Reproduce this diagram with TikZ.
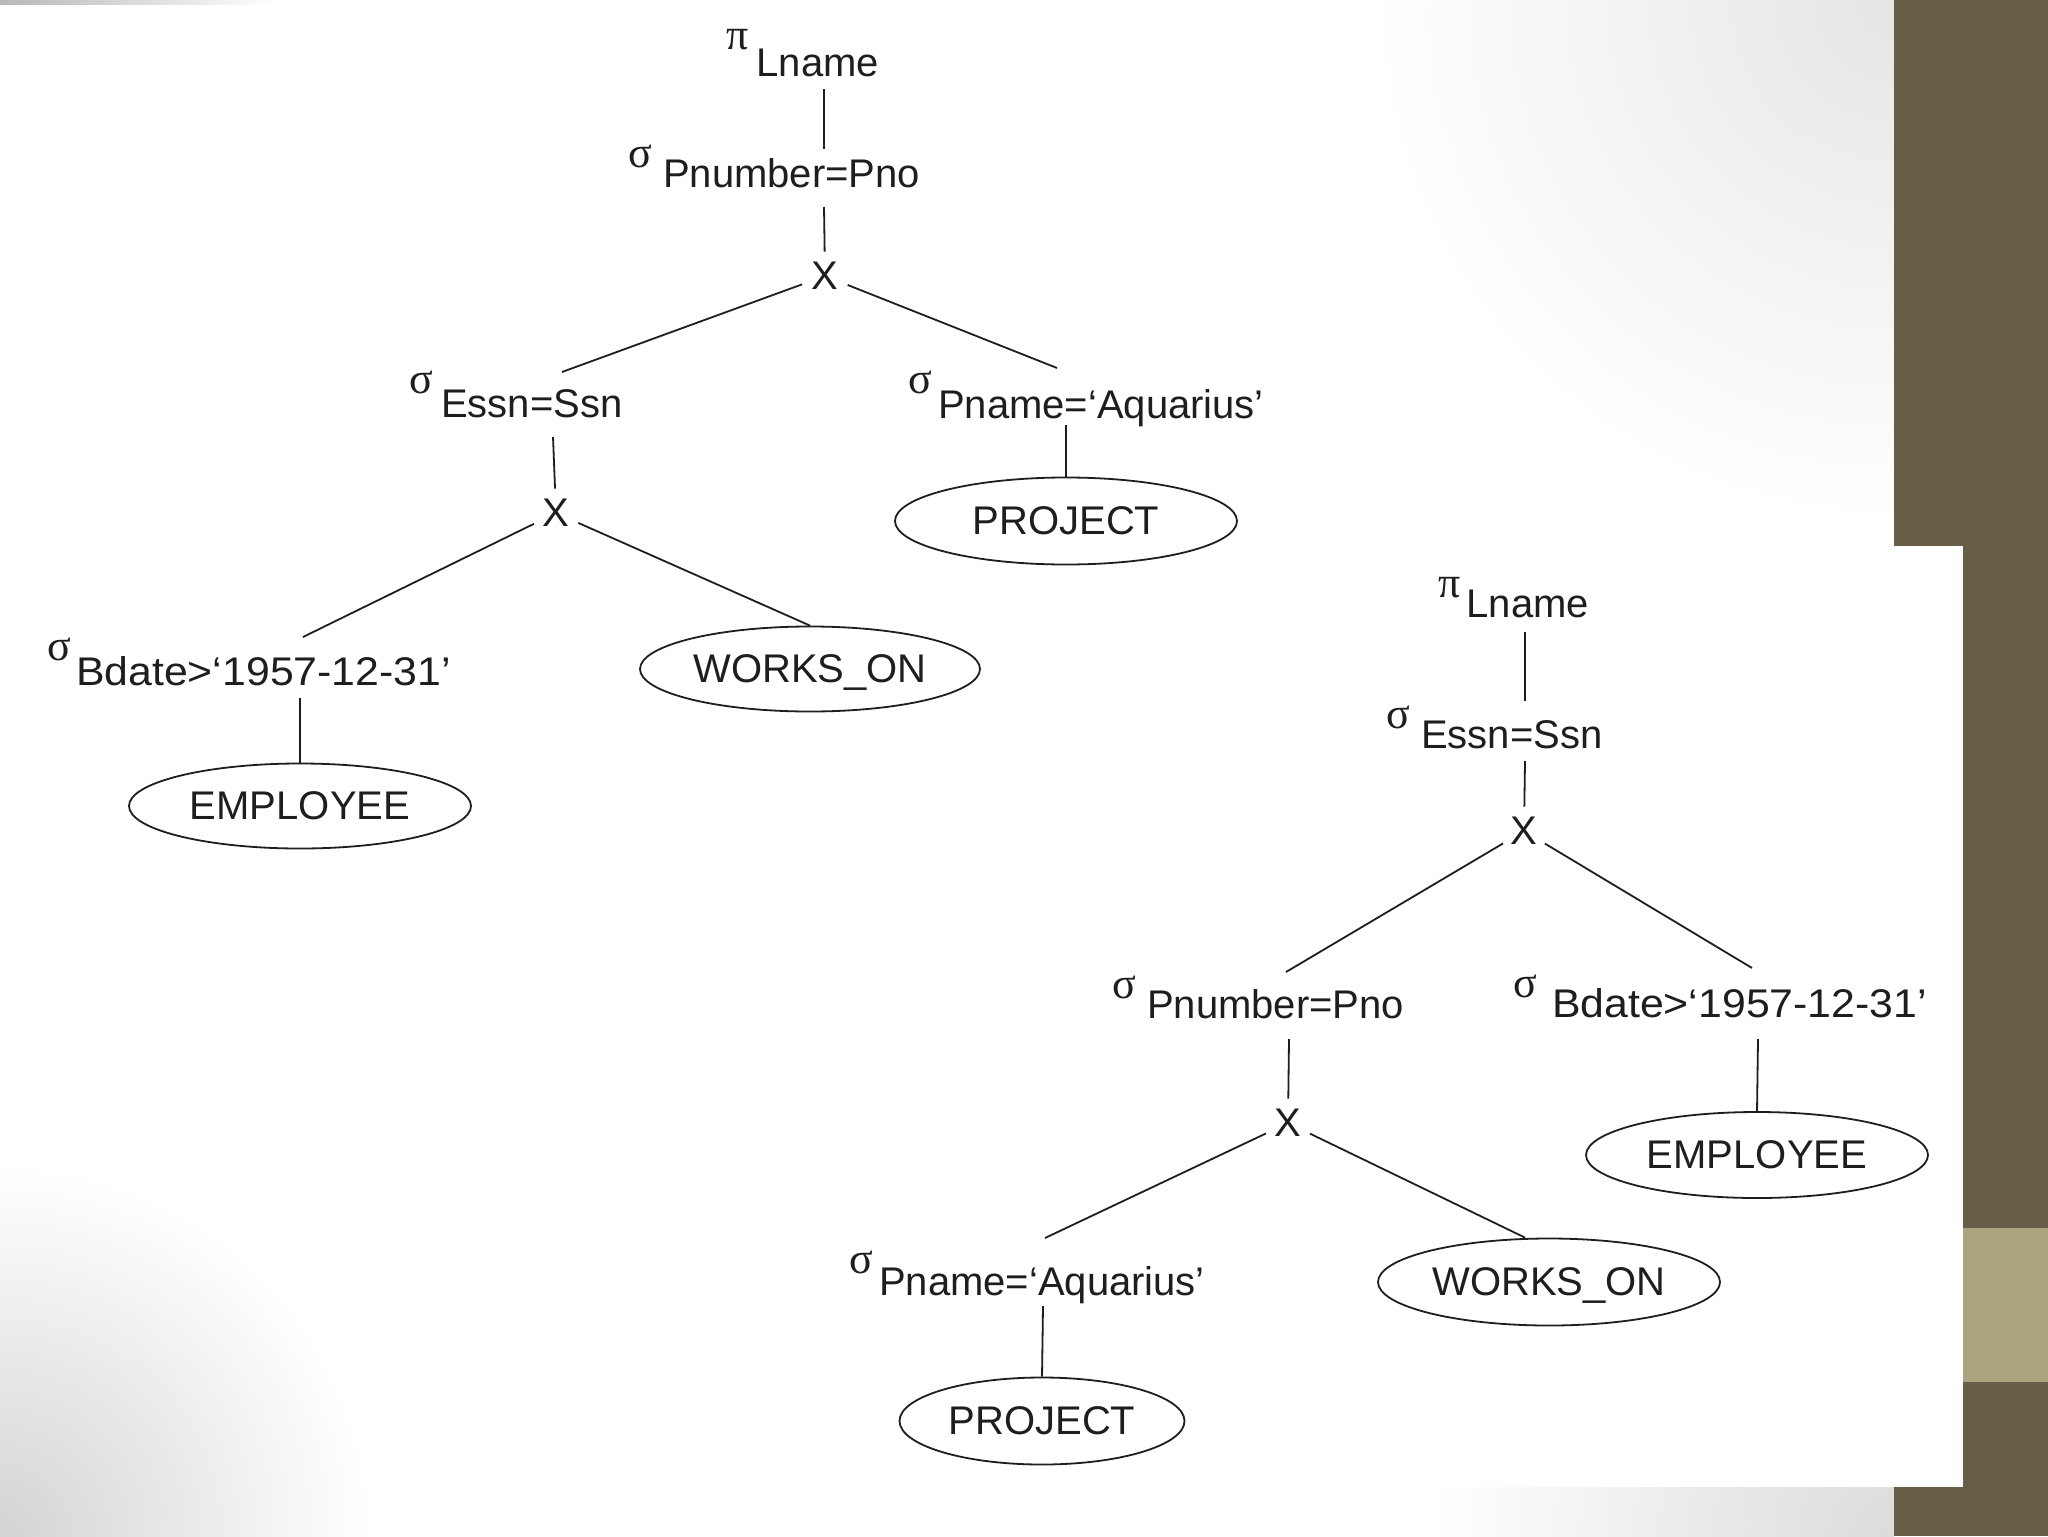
\documentclass[tikz,border=0pt]{standalone}
\usepackage{fontspec}
\usepackage{graphicx}
\setmainfont{Liberation Sans}
\newfontfamily\grkfont{Liberation Serif}
\usetikzlibrary{shapes.geometric,calc}
\definecolor{olivedark}{HTML}{685E48}
\definecolor{olivelight}{HTML}{A9A47C}
\definecolor{ink}{HTML}{1E1E1E}
\newcommand{\oplbl}[4]{\raisebox{#1}{\grkfont\fontsize{22}{26}\selectfont #3}\hspace{#2}#4}
\begin{document}
\begin{tikzpicture}[x=0.5pt,y=-0.5pt,
  txt/.style={font=\fontsize{20}{24}\selectfont, text=ink, inner sep=0pt},
  oplabel/.style={txt, anchor=base west},
  xnode/.style={txt, circle, minimum size=24pt},
  relnode/.style={txt, ellipse, draw=ink, line width=0.9pt, text depth=0pt},
  conn/.style={draw=ink, line width=0.9pt}
]
% ---------- slide background ----------
\useasboundingbox (0,0) rectangle (2048,1536);
\fill[white] (0,0) rectangle (2048,1536);
\begin{scope}
  \clip (0,0) rectangle (1894,1536);
  \shade[inner color=black!10, outer color=white] (1894,0) circle (260pt);
  \shade[inner color=black!14, outer color=white] (1894,1536) circle (230pt);
  \shade[inner color=black!17, outer color=white] (0,1536) circle (185pt);
\end{scope}
\shade[left color=black!28, right color=white] (0,0) rectangle (275,5);
\fill[olivedark] (1894,0) rectangle (2048,1536);
\fill[olivelight] (1894,1228) rectangle (2048,1382);
\fill[white] (820,546) rectangle (1963,1487);

% ---------- left tree ----------
\node[oplabel] (lp)  at (726,77)  {\oplbl{13.5pt}{4pt}{π}{Lname}};
\node[oplabel] (ls1) at (628,187) {\oplbl{10pt}{5.5pt}{σ}{Pnumber=Pno}};
\node[xnode]   (lx1) at (825,276) {X};
\node[oplabel] (ls2) at (409,417) {\oplbl{12pt}{4pt}{σ}{Essn=Ssn}};
\node[oplabel] (ls3) at (908,418) {\oplbl{12.5pt}{3pt}{σ}{Pname=‘Aquarius’}};
\node[relnode, minimum width=171pt, minimum height=43.5pt] (lproj) at (1066,521) {PROJECT};
\node[xnode]   (lx2) at (556,513) {X};
\node[oplabel] (ls4) at (47,685)  {\oplbl{12.5pt}{2.5pt}{σ}{\scalebox{1.07}[1]{Bdate>‘1957-12-31’}}};
\node[relnode, minimum width=170pt, minimum height=42.5pt] (lwo) at (810,669) {WORKS\_ON};
\node[relnode, minimum width=171pt, minimum height=42.5pt] (lemp) at (300,806) {EMPLOYEE};

\coordinate (lpB)  at (824,89);
\coordinate (ls1T) at (824,149);
\coordinate (ls1B) at (824,207);
\coordinate (ls2T) at (562,372);
\coordinate (ls3T) at (1057,368);
\coordinate (ls2B) at (553,437);
\coordinate (ls4T) at (303,637);
\coordinate (ls4B) at (300,698);
\coordinate (ls3B) at (1066,425);

\draw[conn] (lpB) -- (ls1T);
\draw[conn] (ls1B) -- (lx1);
\draw[conn] (lx1) -- (ls2T);
\draw[conn] (lx1) -- (ls3T);
\draw[conn] (ls3B) -- (lproj.north);
\draw[conn] (ls2B) -- (lx2);
\draw[conn] (lx2) -- (ls4T);
\draw[conn] (lx2) -- (lwo.north);
\draw[conn] (ls4B) -- (lemp.north);

% ---------- right tree ----------
\node[oplabel] (rp)  at (1438,617)  {\oplbl{10pt}{3pt}{π}{Lname}};
\node[oplabel] (rs1) at (1386,748)  {\oplbl{10pt}{5.5pt}{σ}{Essn=Ssn}};
\node[xnode]   (rx1) at (1524,831)  {X};
\node[oplabel] (rs2) at (1112,1018) {\oplbl{10pt}{5.5pt}{σ}{Pnumber=Pno}};
\node[oplabel] (rs3) at (1513,1017) {\oplbl{10pt}{7.5pt}{σ}{\scalebox{1.07}[1]{Bdate>‘1957-12-31’}}};
\node[xnode]   (rx2) at (1288,1123) {X};
\node[relnode, minimum width=171pt, minimum height=43pt] (remp) at (1757,1155) {EMPLOYEE};
\node[oplabel] (rs4) at (849,1295)  {\oplbl{11pt}{3pt}{σ}{Pname=‘Aquarius’}};
\node[relnode, minimum width=171pt, minimum height=43.5pt] (rwo) at (1549,1282) {WORKS\_ON};
\node[relnode, minimum width=142.5pt, minimum height=43.5pt] (rproj) at (1042,1421) {PROJECT};

\coordinate (rpB)  at (1525,632);
\coordinate (rs1T) at (1525,701);
\coordinate (rs1B) at (1525,761);
\coordinate (rs2T) at (1286,972);
\coordinate (rs3T) at (1752,968);
\coordinate (rs2B) at (1289,1039);
\coordinate (rs4T) at (1045,1238);
\coordinate (rs3B) at (1758,1039);
\coordinate (rs4B) at (1043,1306);

\draw[conn] (rpB) -- (rs1T);
\draw[conn] (rs1B) -- (rx1);
\draw[conn] (rx1) -- (rs2T);
\draw[conn] (rx1) -- (rs3T);
\draw[conn] (rs3B) -- (remp.north);
\draw[conn] (rs2B) -- (rx2);
\draw[conn] (rx2) -- (rs4T);
\draw[conn] (rx2) -- ([xshift=-12pt]rwo.north);
\draw[conn] (rs4B) -- (rproj.north);
\end{tikzpicture}
\end{document}
